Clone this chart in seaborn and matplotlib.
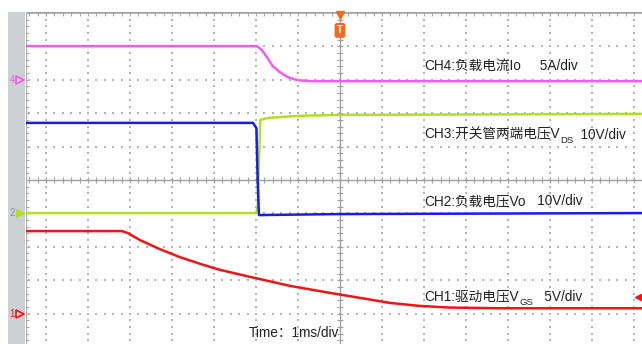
import numpy as np
import pandas as pd
import seaborn as sns
import matplotlib.pyplot as plt
from matplotlib.patches import Rectangle

# time in ms (1 ms/div), amplitude in screen divisions
ch1_t = [-7.48, -5.19, -5.05, -4.76, -4.29, -3.81, -3.33, -2.86, -2.14, -1.19, -0.24, 0.48, 1.19, 1.90, 2.62, 3.81, 7.19]
ch1_v = [-1.53, -1.53, -1.59, -1.80, -2.07, -2.31, -2.51, -2.69, -2.90, -3.17, -3.38, -3.53, -3.68, -3.77, -3.82, -3.84, -3.84]

ch2_t = [-7.48, -2.07, -1.99, -1.96, -1.93, 0.00, 7.19]
ch2_v = [1.71, 1.71, 1.55, 0.00, -1.05, -1.02, -0.99]

ch3_t = [-7.48, -2.00, -1.96, -1.90, -1.70, -1.00, 0.00, 7.19]
ch3_v = [-0.99, -0.99, -0.80, 1.80, 1.86, 1.92, 1.95, 1.98]

ch4_t = [-7.48, -1.98, -1.86, -1.74, -1.60, -1.43, -1.24, -1.02, -0.71, 7.19]
ch4_v = [4.01, 4.01, 3.89, 3.68, 3.41, 3.23, 3.08, 2.99, 2.96, 2.96]

channels = ["CH1", "CH3", "CH2", "CH4"]
colors = {"CH1": "#f01414", "CH2": "#1a1af0", "CH3": "#b2e01e", "CH4": "#f05cf0"}

labels = [
    ("CH4:负载电流Io", "", "     5A/div", 3.41),
    ("CH3:开关管两端电压V", "DS", "  10V/div", 1.35),
    ("CH2:负载电压Vo", "", "   10V/div", -0.63),
    ("CH1:驱动电压V", "GS", "   5V/div", -3.50),
]
time_label = "Time：1ms/div"

W, H = 642, 344
PX_X, PX_Y = 42.0, 33.4      # pixels per division
CX, CY = 340, 180            # screen centre in pixels
X0, Y0 = 26, 12              # top-left corner of the screen area


def draw_screen(ax, left, right, bottom, top):
    grid_c = "#b4b4b4"
    # dotted graticule
    for gx in np.arange(np.ceil(left), right, 1.0):
        if gx == 0:
            continue
        ys = np.arange(-5, top, 0.2)
        ax.scatter(np.full(len(ys), gx), ys, s=0.7, marker="s", color=grid_c, linewidths=0)
    for gy in np.arange(-4, top, 1.0):
        if gy == 0:
            continue
        xs = np.arange(np.ceil(left / 0.2) * 0.2, right, 0.2)
        ax.scatter(xs, np.full(len(xs), gy), s=0.7, marker="s", color=grid_c, linewidths=0)
    # centre cross with minor ticks
    line_c = "#a0a0a0"
    ax.axhline(0, color=line_c, lw=1)
    ax.axvline(0, color=line_c, lw=1)
    tx = np.arange(np.ceil(left / 0.2) * 0.2, right, 0.2)
    ty = np.arange(-5, top, 0.2)
    ax.vlines(tx, -0.09, 0.09, color=line_c, lw=0.8)
    ax.hlines(ty, -0.07, 0.07, color=line_c, lw=0.8)
    # top and left border
    ax.axhline(top, color="#a8a8a8", lw=2)
    ax.vlines(tx, top - 0.13, top, color="#a8a8a8", lw=0.8)
    ax.axvline(left, color="#b0b0b0", lw=1)
    ax.hlines(ty, left, left + 0.07, color="#b0b0b0", lw=0.8)


def main():
    sns.set_style("white")
    plt.rcParams["font.family"] = ["Liberation Sans", "Noto Sans CJK SC", "DejaVu Sans"]

    fig = plt.figure(figsize=(W / 100, H / 100), dpi=100)
    fig.add_artist(Rectangle((8 / W, 0), 17 / W, (H - Y0) / H, transform=fig.transFigure,
                             color="#cdd1d3", lw=0, zorder=-5))
    ax = fig.add_axes([X0 / W, 0, (W - X0) / W, (H - Y0) / H])
    ax.patch.set_alpha(0)
    left, right = (X0 - CX) / PX_X, (W - CX) / PX_X
    bottom, top = (CY - H) / PX_Y, (CY - Y0) / PX_Y
    ax.set_xlim(left, right)
    ax.set_ylim(bottom, top)
    ax.axis("off")

    draw_screen(ax, left, right, bottom, top)

    data = {"CH1": (ch1_t, ch1_v), "CH2": (ch2_t, ch2_v), "CH3": (ch3_t, ch3_v), "CH4": (ch4_t, ch4_v)}
    df = pd.concat([pd.DataFrame({"t": t, "v": v, "ch": name}) for name, (t, v) in data.items()])
    sns.lineplot(data=df, x="t", y="v", hue="ch", hue_order=channels, palette=colors,
                 sort=False, estimator=None, lw=1.8, legend=False, ax=ax)

    # ground markers on the left strip
    mx = (20 - CX) / PX_X
    nx = (12.5 - CX) / PX_X
    ax.plot(mx, 3.0, marker=">", ms=6, mfc="none", mec=colors["CH4"], mew=1.2, clip_on=False, zorder=5)
    ax.text(nx, 3.0, "4", color=colors["CH4"], fontsize=7, ha="center", va="center", clip_on=False)
    ax.plot(mx, -1.0, marker=">", ms=6, color=colors["CH3"], clip_on=False, zorder=5)
    ax.text(nx, -1.0, "2", color="#8a86b8", fontsize=7, ha="center", va="center", clip_on=False)
    ax.plot(mx, -4.0, marker=">", ms=6, mfc="none", mec=colors["CH1"], mew=1.2, clip_on=False, zorder=5)
    ax.text(nx, -4.0, "1", color=colors["CH1"], fontsize=7, ha="center", va="center", clip_on=False)

    # trigger marker and trigger level
    trig = "#f26a1f"
    ax.plot(0, top - 0.08, marker="v", ms=6, color=trig, clip_on=False)
    ax.text(0, top - 0.55, "T", ha="center", va="center", color="white", fontsize=7, fontweight="bold",
            bbox=dict(boxstyle="round,pad=0.25", fc=trig, ec="none"))
    ax.plot((638 - CX) / PX_X, -3.50, marker="<", ms=4, color=colors["CH1"], clip_on=False)

    # channel labels
    lx = (424 - CX) / PX_X
    for main_txt, sub, tail, y in labels:
        t1 = ax.text(lx, y, main_txt, fontsize=9.8, color="#222222", va="center", ha="left")
        anchor = t1
        if sub:
            anchor = ax.annotate(sub, xy=(1, 0.12), xycoords=t1, xytext=(0.3, 0), textcoords="offset points",
                                 fontsize=6.8, color="#222222", va="center", ha="left")
        ax.annotate(tail, xy=(1, 0.5), xycoords=(anchor, t1), fontsize=9.8, color="#222222",
                    va="center", ha="left")
    ax.text((249 - CX) / PX_X, (CY - 333) / PX_Y, time_label, fontsize=9.8, color="#222222",
            va="center", ha="left")

    fig.savefig("out.png", dpi=100)


if __name__ == "__main__":
    main()
